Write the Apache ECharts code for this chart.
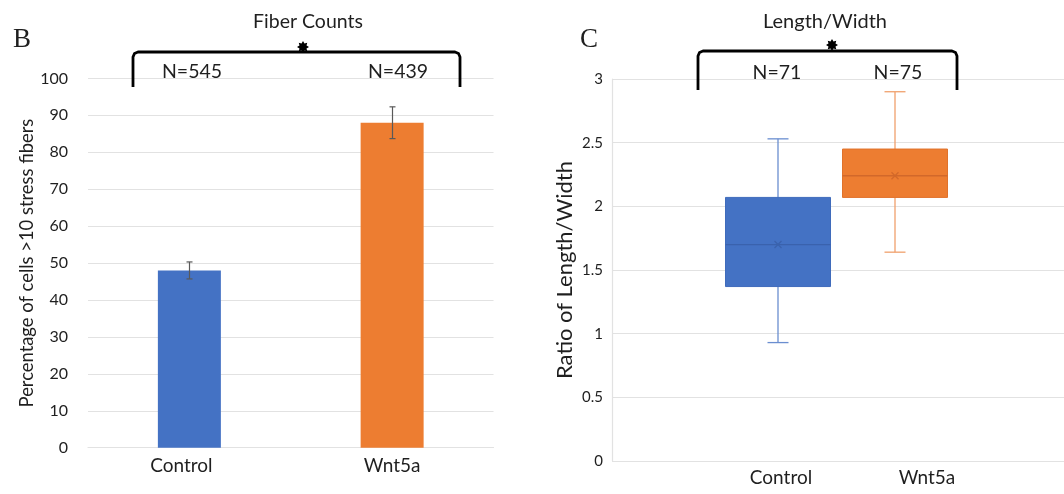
<!DOCTYPE html>
<html>
<head>
<meta charset="utf-8">
<title>Fiber Counts and Length/Width</title>
<script src="https://cdn.jsdelivr.net/npm/echarts@6/dist/echarts.min.js"></script>
<style>
  html, body { margin: 0; padding: 0; background: #ffffff; }
  #chart { width: 1064px; height: 494px; }
</style>
</head>
<body>
<div id="chart"></div>
<script>
// Groups shared by both panels
const categories = ['Control', 'Wnt5a'];
const groupColors = ['#4472C4', '#ED7D31'];

// Panel B: percentage of cells with >10 stress fibers (mean and error)
const fiberPercent = [48, 88];
const fiberError = [2.3, 4.3];
const fiberN = [545, 439];
const fiberTicks = [0, 10, 20, 30, 40, 50, 60, 70, 80, 90, 100];

// Panel C: length/width ratio, [min, Q1, median, Q3, max] and mean
const ratioStats = [
  [0.93, 1.37, 1.70, 2.07, 2.53],
  [1.64, 2.07, 2.24, 2.45, 2.90]
];
const ratioMean = [1.70, 2.24];
const ratioN = [71, 75];
const ratioTicks = [0, 0.5, 1, 1.5, 2, 2.5, 3];

// Styling helpers
const FONT = 'Lato';
const TEXT = '#1f1f1f';
const GRID_LINE = '#e2e2e2';
const whiskerColors = ['#6a8ed0', '#f0a06c'];
const medianColors = ['#3a62ad', '#d2682a'];
const boxBorders = ['#3f6bbb', '#e0722b'];

function step(ticks) { return ticks[1] - ticks[0]; }

// Rounded bracket drawn over a pair of groups
function bracket(x0, x1, yTop, yBot) {
  const r = 5;
  return {
    type: 'polyline',
    z: 100,
    shape: {
      points: [
        [x0, yBot], [x0, yTop + r], [x0 + r * 0.3, yTop + r * 0.3], [x0 + r, yTop],
        [x1 - r, yTop], [x1 - r * 0.3, yTop + r * 0.3], [x1, yTop + r], [x1, yBot]
      ]
    },
    style: { stroke: '#000', lineWidth: 2.8, fill: null, lineJoin: 'round', lineCap: 'butt' }
  };
}

// Eight-pointed star used as significance marker
function star(cx, cy, outer, inner) {
  const pts = [];
  for (let k = 0; k < 16; k++) {
    const a = -Math.PI / 2 + k * Math.PI / 8;
    const rr = k % 2 === 0 ? outer : inner;
    pts.push([cx + rr * Math.cos(a), cy + rr * Math.sin(a)]);
  }
  return { type: 'polygon', z: 101, shape: { points: pts }, style: { fill: '#000' } };
}

function label(text, x, y, size, family) {
  return {
    type: 'text', z: 100, x: x, y: y,
    style: {
      text: text, fill: TEXT, font: 'normal ' + size + 'px ' + (family || FONT),
      textAlign: 'center', textVerticalAlign: 'middle'
    }
  };
}

const chart = echarts.init(document.getElementById('chart'), null, { renderer: 'canvas' });

const option = {
  backgroundColor: '#ffffff',
  animation: false,
  textStyle: { fontFamily: FONT, color: TEXT },
  grid: [
    // Panel B
    { left: 88, width: 405.5, top: 78.4, bottom: 46.3 },
    // Panel C: axis frame and grid lines
    { left: 612, right: 0, top: 79, bottom: 33 },
    // Panel C: boxes
    { left: 719.5, width: 234, top: 79, bottom: 33 },
    // Panel C: group labels
    { left: 708, width: 292, top: 79, bottom: 33 }
  ],
  xAxis: [
    {
      gridIndex: 0, type: 'category', data: categories,
      axisLine: { show: true, lineStyle: { color: GRID_LINE, width: 1.2 } },
      axisTick: { show: false },
      axisLabel: {
        fontSize: 19, color: TEXT, margin: 9,
        // the first group label sits slightly left of its bar
        formatter: (v, i) => i === 0 ? '{l|' + v + '}' : v,
        rich: { l: { fontSize: 19, color: TEXT, padding: [0, 16, 0, 0] } }
      }
    },
    { gridIndex: 1, type: 'category', data: [''], show: false },
    { gridIndex: 2, type: 'category', data: categories, show: false },
    {
      gridIndex: 3, type: 'category', data: categories,
      axisLine: { show: false }, axisTick: { show: false },
      axisLabel: { fontSize: 19, color: TEXT, margin: 7 }
    }
  ],
  yAxis: [
    {
      gridIndex: 0, type: 'value',
      min: fiberTicks[0], max: fiberTicks[fiberTicks.length - 1], interval: step(fiberTicks),
      name: 'Percentage of cells >10 stress fibers', nameLocation: 'middle', nameGap: 52,
      nameTextStyle: { fontSize: 18.4, color: TEXT },
      axisLine: { show: false }, axisTick: { show: false },
      axisLabel: { fontSize: 16, color: TEXT, margin: 20 },
      splitLine: { lineStyle: { color: GRID_LINE, width: 1.2 } }
    },
    {
      gridIndex: 1, type: 'value',
      min: ratioTicks[0], max: ratioTicks[ratioTicks.length - 1], interval: step(ratioTicks),
      name: 'Ratio of Length/Width', nameLocation: 'middle', nameGap: 36,
      nameTextStyle: { fontSize: 22, color: TEXT },
      axisLine: { show: true, lineStyle: { color: GRID_LINE, width: 1.2 } },
      axisTick: { show: false },
      axisLabel: { fontSize: 15, color: TEXT, margin: 9 },
      splitLine: { lineStyle: { color: GRID_LINE, width: 1.2 } }
    },
    {
      gridIndex: 2, type: 'value', show: false,
      min: ratioTicks[0], max: ratioTicks[ratioTicks.length - 1]
    },
    {
      gridIndex: 3, type: 'value', show: false,
      min: ratioTicks[0], max: ratioTicks[ratioTicks.length - 1]
    }
  ],
  series: [
    {
      type: 'bar', xAxisIndex: 0, yAxisIndex: 0, barWidth: 63,
      data: fiberPercent.map((v, i) => ({ value: v, itemStyle: { color: groupColors[i] } }))
    },
    {
      // Error bars
      type: 'custom', xAxisIndex: 0, yAxisIndex: 0, z: 5,
      encode: { x: 0, y: [1, 2] },
      data: fiberPercent.map((v, i) => [i, v - fiberError[i], v + fiberError[i]]),
      renderItem: function (params, api) {
        const i = api.value(0);
        const lo = api.coord([i, api.value(1)]);
        const hi = api.coord([i, api.value(2)]);
        const x = Math.round(lo[0]) + 0.5;
        const cap = 3;
        const st = { stroke: '#595959', lineWidth: 1.2 };
        return {
          type: 'group',
          children: [
            { type: 'line', shape: { x1: x, y1: hi[1], x2: x, y2: lo[1] }, style: st },
            { type: 'line', shape: { x1: x - cap, y1: hi[1], x2: x + cap, y2: hi[1] }, style: st },
            { type: 'line', shape: { x1: x - cap, y1: lo[1], x2: x + cap, y2: lo[1] }, style: st }
          ]
        };
      }
    },
    {
      // Box and whisker plot with mean marker
      type: 'custom', xAxisIndex: 2, yAxisIndex: 2,
      encode: { x: 0, y: [1, 2, 3, 4, 5] },
      data: ratioStats.map((s, i) => [i].concat(s).concat([ratioMean[i]])),
      renderItem: function (params, api) {
        const i = api.value(0);
        const y = k => api.coord([i, api.value(k)])[1];
        const x = api.coord([i, 0])[0];
        const half = 52.5, capHalf = 10.5;
        const yMin = y(1), yQ1 = y(2), yMed = y(3), yQ3 = y(4), yMax = y(5), yMean = y(6);
        const w = { stroke: whiskerColors[i], lineWidth: 1.3 };
        const m = { stroke: medianColors[i], lineWidth: 1.3 };
        const mk = 3.5;
        return {
          type: 'group',
          children: [
            { type: 'line', shape: { x1: x, y1: yQ3, x2: x, y2: yMax }, style: w },
            { type: 'line', shape: { x1: x - capHalf, y1: yMax, x2: x + capHalf, y2: yMax }, style: w },
            { type: 'line', shape: { x1: x, y1: yQ1, x2: x, y2: yMin }, style: w },
            { type: 'line', shape: { x1: x - capHalf, y1: yMin, x2: x + capHalf, y2: yMin }, style: w },
            {
              type: 'rect', shape: { x: x - half, y: yQ3, width: half * 2, height: yQ1 - yQ3 },
              style: { fill: groupColors[i], stroke: boxBorders[i], lineWidth: 1 }
            },
            { type: 'line', shape: { x1: x - half, y1: yMed, x2: x + half, y2: yMed }, style: m },
            { type: 'line', shape: { x1: x - mk, y1: yMean - mk, x2: x + mk, y2: yMean + mk }, style: m },
            { type: 'line', shape: { x1: x - mk, y1: yMean + mk, x2: x + mk, y2: yMean - mk }, style: m }
          ]
        };
      }
    }
  ],
  graphic: [
    // Panel letters
    label('B', 22, 40, 27, '"Liberation Serif", "DejaVu Serif", serif'),
    label('C', 589, 40, 27, '"Liberation Serif", "DejaVu Serif", serif'),
    // Titles
    label('Fiber Counts', 308, 22, 19.5),
    label('Length/Width', 825, 22, 20),
    // Brackets, significance markers and sample sizes
    bracket(133, 460, 52, 87),
    star(303, 47, 6, 3.8),
    label('N=' + fiberN[0], 192, 72, 19.5),
    label('N=' + fiberN[1], 398, 72, 19.5),
    bracket(698, 957, 51, 90),
    star(832, 45, 6, 3.8),
    label('N=' + ratioN[0], 777, 73, 19.5),
    label('N=' + ratioN[1], 898, 73, 19.5)
  ]
};

chart.setOption(option);
</script>
</body>
</html>
